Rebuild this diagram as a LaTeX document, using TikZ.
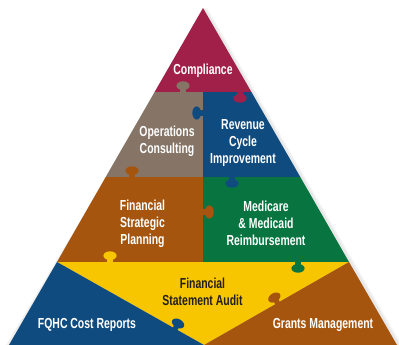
\documentclass[tikz,border=0pt]{standalone}
\usepackage{fontspec}
\setmainfont{Liberation Sans}[FakeStretch=0.72]
\usepackage{tikz}

\definecolor{compl}{RGB}{161,32,74}
\definecolor{taupe}{RGB}{134,117,102}
\definecolor{navy}{RGB}{16,75,128}
\definecolor{rust}{RGB}{166,85,14}
\definecolor{leaf}{RGB}{8,117,64}
\definecolor{gold}{RGB}{248,198,0}
\definecolor{ink}{RGB}{35,31,32}

\tikzset{
  lbl/.style={font=\bfseries\fontsize{14.5}{17}\selectfont, text=white, align=center, inner sep=0pt},
  dark/.style={lbl, text=ink},
  knob/.pic={
    \fill (-2.6,1) rectangle (2.6,-3.5);
    \fill (0,-6.3) ellipse (6.6 and 4.4);
  }
}

\begin{document}
\begin{tikzpicture}[x=1pt,y=-1pt]
    \useasboundingbox (0,0) rectangle (399,345);
    \coordinate (top) at (203,8);
    \coordinate (l1) at (154.6,92);
    \coordinate (m1) at (203,92);
    \coordinate (r1) at (251.4,92);
    \coordinate (l2) at (105.7,177);
    \coordinate (m2) at (203,177);
    \coordinate (r2) at (300.3,177);
    \coordinate (l3) at (57,262);
    \coordinate (m3) at (203,262);
    \coordinate (r3) at (349,262);
    \coordinate (bl) at (9,345);
    \coordinate (bm) at (204,345);
    \coordinate (br) at (397,345);

    % soft shadow
    \fill[black!5] ([xshift=4pt]top) -- ([xshift=7pt,yshift=-4pt]br) -- ([xshift=-3pt]bl) -- cycle;
    \fill[black!9] ([xshift=2pt]top) -- ([xshift=4pt,yshift=-2pt]br) -- ([xshift=-1pt]bl) -- cycle;

    % pieces
    \fill[compl] (top) -- (r1) -- (l1) -- cycle;
    \fill[taupe] (l1) -- (m1) -- (m2) -- (l2) -- cycle;
    \fill[navy] (m1) -- (r1) -- (r2) -- (m2) -- cycle;
    \fill[rust] (l2) -- (m2) -- (m3) -- (l3) -- cycle;
    \fill[leaf] (m2) -- (r2) -- (r3) -- (m3) -- cycle;
    \fill[gold] (l3) -- (r3) -- (bm) -- cycle;
    \fill[navy] (l3) -- (bm) -- (bl) -- cycle;
    \fill[rust] (r3) -- (br) -- (bm) -- cycle;

    % puzzle knobs
    \pic[color=taupe] at (183,92) {knob};
    \pic[color=compl, rotate=180] at (240,92) {knob};
    \pic[color=navy, rotate=90] at (203,113) {knob};
    \pic[color=rust] at (132,177) {knob};
    \pic[color=navy, rotate=180] at (232,177) {knob};
    \pic[color=rust, rotate=-90] at (203,212) {knob};
    \pic[color=gold] at (110,262) {knob};
    \pic[color=leaf, rotate=180] at (298,262) {knob};
    \pic[color=rust, rotate=30] at (277.5,303) {knob};
    \pic[color=navy, rotate=-29] at (175,329) {knob};

    % labels
    \node[lbl] (compliance) at (203,71) {Compliance};
    \node[lbl] (operations) at (167,141.5) {Operations\\Consulting};
    \node[lbl] (revenue) at (243,143) {Revenue\\Cycle\\Improvement};
    \node[lbl] (strategic) at (142.5,223.5) {Financial\\Strategic\\Planning};
    \node[lbl] (medicare) at (266,223.5) {Medicare\\\&~Medicaid\\Reimbursement};
    \node[dark] (audit) at (202.5,292) {Financial\\Statement Audit};
    \node[lbl] (fqhc) at (87,325) {FQHC Cost Reports};
    \node[lbl] (grants) at (323,325) {Grants Management};
\end{tikzpicture}
\end{document}
